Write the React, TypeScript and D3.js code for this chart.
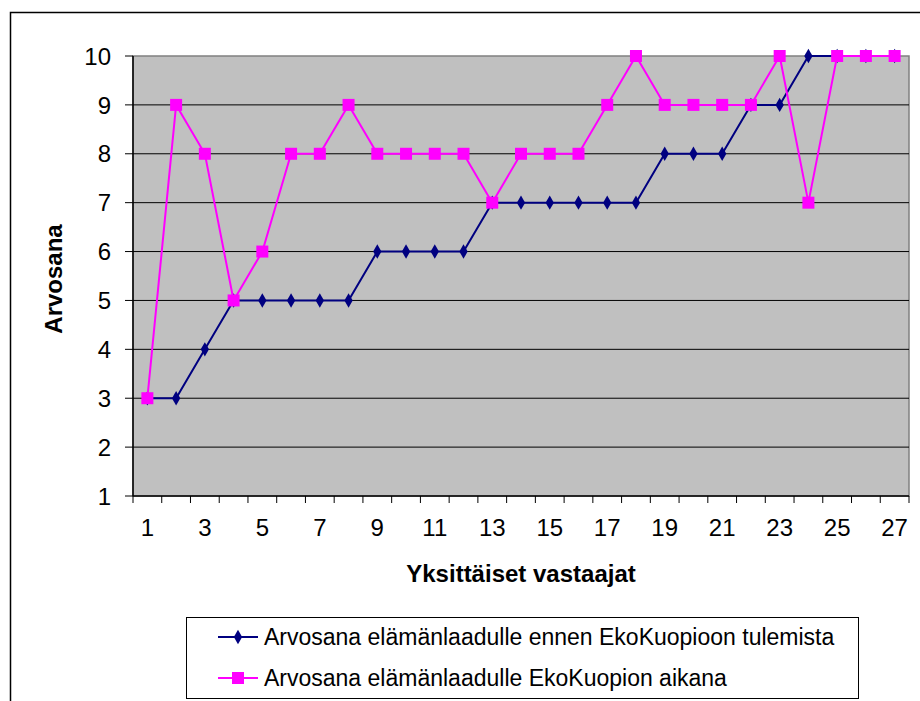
import React, { useEffect, useRef } from 'react';
import * as d3 from 'd3';

const respondents = d3.range(1, 28);
const beforeScores = [3, 3, 4, 5, 5, 5, 5, 5, 6, 6, 6, 6, 7, 7, 7, 7, 7, 7, 8, 8, 8, 9, 9, 10, 10, 10, 10];
const duringScores = [3, 9, 8, 5, 6, 8, 8, 9, 8, 8, 8, 8, 7, 8, 8, 8, 9, 10, 9, 9, 9, 9, 10, 7, 10, 10, 10];
const yTicks = [1, 2, 3, 4, 5, 6, 7, 8, 9, 10];
const xLabels = [1, 3, 5, 7, 9, 11, 13, 15, 17, 19, 21, 23, 25, 27];
const seriesNames = [
  'Arvosana elämänlaadulle ennen EkoKuopioon tulemista',
  'Arvosana elämänlaadulle EkoKuopion aikana',
];

const W = 920;
const H = 701;
const FONT = '"Liberation Sans", Arial, sans-serif';

const App = () => {
  const svgRef = useRef<SVGSVGElement>(null);

  useEffect(() => {
    const svg = d3.select(svgRef.current);
    svg.selectAll('*').remove();

    const left = 133, right = 909, top = 56, bottom = 496;

    // outer chart frame
    svg.append('rect')
      .attr('x', 10.5).attr('y', 12.5)
      .attr('width', W).attr('height', H)
      .attr('fill', '#fff').attr('stroke', '#000').attr('stroke-width', 1.5);

    const x = d3.scaleBand<number>().domain(respondents).range([left, right]);
    const y = d3.scaleLinear().domain([1, 10]).range([bottom, top]);
    const cx = (i: number) => x(respondents[i])! + x.bandwidth() / 2;

    svg.append('rect')
      .attr('x', left).attr('y', top)
      .attr('width', right - left).attr('height', bottom - top)
      .attr('fill', '#c0c0c0').attr('stroke', '#808080').attr('stroke-width', 1.5);

    // gridlines
    svg.append('g').selectAll('line')
      .data(yTicks.filter(t => t > 1 && t < 10))
      .enter().append('line')
      .attr('x1', left).attr('x2', right)
      .attr('y1', d => y(d)).attr('y2', d => y(d))
      .attr('stroke', '#000').attr('stroke-width', 1);

    // y axis
    const yAxis = svg.append('g');
    yAxis.append('line')
      .attr('x1', left).attr('x2', left).attr('y1', top).attr('y2', bottom)
      .attr('stroke', '#000').attr('stroke-width', 1.5);
    yAxis.selectAll('.tick')
      .data(yTicks).enter().append('line')
      .attr('x1', left - 8).attr('x2', left)
      .attr('y1', d => y(d)).attr('y2', d => y(d))
      .attr('stroke', '#000');
    yAxis.selectAll('text')
      .data(yTicks).enter().append('text')
      .attr('x', 111).attr('y', d => y(d))
      .attr('dy', '0.36em')
      .attr('text-anchor', 'end')
      .attr('font-family', FONT).attr('font-size', 24)
      .text(d => d);

    // x axis
    const xAxis = svg.append('g');
    xAxis.append('line')
      .attr('x1', left).attr('x2', right).attr('y1', bottom).attr('y2', bottom)
      .attr('stroke', '#000').attr('stroke-width', 1.5);
    xAxis.selectAll('.tick')
      .data([...respondents.map(r => x(r)!), right]).enter().append('line')
      .attr('x1', d => d).attr('x2', d => d)
      .attr('y1', bottom).attr('y2', bottom + 7)
      .attr('stroke', '#000');
    xAxis.selectAll('text')
      .data(xLabels).enter().append('text')
      .attr('x', d => x(d)! + x.bandwidth() / 2)
      .attr('y', 536)
      .attr('text-anchor', 'middle')
      .attr('font-family', FONT).attr('font-size', 24)
      .text(d => d);

    // axis titles
    svg.append('text')
      .attr('transform', 'translate(62,279) rotate(-90)')
      .attr('text-anchor', 'middle')
      .attr('font-family', FONT).attr('font-size', 24).attr('font-weight', 'bold')
      .text('Arvosana');
    svg.append('text')
      .attr('x', 521).attr('y', 582)
      .attr('text-anchor', 'middle')
      .attr('font-family', FONT).attr('font-size', 24).attr('font-weight', 'bold')
      .text('Yksittäiset vastaajat');

    const line = d3.line<number>().x((_, i) => cx(i)).y(d => y(d));
    const diamond = d3.symbol().type(d3.symbolDiamond).size(60);

    // navy series
    svg.append('path')
      .datum(beforeScores)
      .attr('d', line)
      .attr('fill', 'none').attr('stroke', '#000080').attr('stroke-width', 2);
    svg.append('g').selectAll('path')
      .data(beforeScores).enter().append('path')
      .attr('d', diamond)
      .attr('transform', (d, i) => `translate(${cx(i)},${y(d)})`)
      .attr('fill', '#000080');

    // magenta series
    svg.append('path')
      .datum(duringScores)
      .attr('d', line)
      .attr('fill', 'none').attr('stroke', '#ff00ff').attr('stroke-width', 2);
    svg.append('g').selectAll('rect')
      .data(duringScores).enter().append('rect')
      .attr('x', (_, i) => cx(i) - 6).attr('y', d => y(d) - 6)
      .attr('width', 12).attr('height', 12)
      .attr('fill', '#ff00ff');

    // legend
    const lg = svg.append('g');
    lg.append('rect')
      .attr('x', 186.5).attr('y', 617.5).attr('width', 672).attr('height', 81)
      .attr('fill', '#fff').attr('stroke', '#000');
    const colors = ['#000080', '#ff00ff'];
    seriesNames.forEach((name, i) => {
      const ly = 637 + i * 41;
      lg.append('line')
        .attr('x1', 218).attr('x2', 258).attr('y1', ly).attr('y2', ly)
        .attr('stroke', colors[i]).attr('stroke-width', 2);
      if (i === 0) {
        lg.append('path').attr('d', diamond)
          .attr('transform', `translate(238,${ly})`).attr('fill', colors[i]);
      } else {
        lg.append('rect').attr('x', 232).attr('y', ly - 6)
          .attr('width', 12).attr('height', 12).attr('fill', colors[i]);
      }
      lg.append('text')
        .attr('x', 264).attr('y', ly).attr('dy', '0.36em')
        .attr('font-family', FONT).attr('font-size', 23)
        .text(name);
    });
  }, []);

  return (
    <svg ref={svgRef} width={W} height={H} style={{ position: 'absolute', left: 0, top: 0 }} />
  );
};

export default App;
